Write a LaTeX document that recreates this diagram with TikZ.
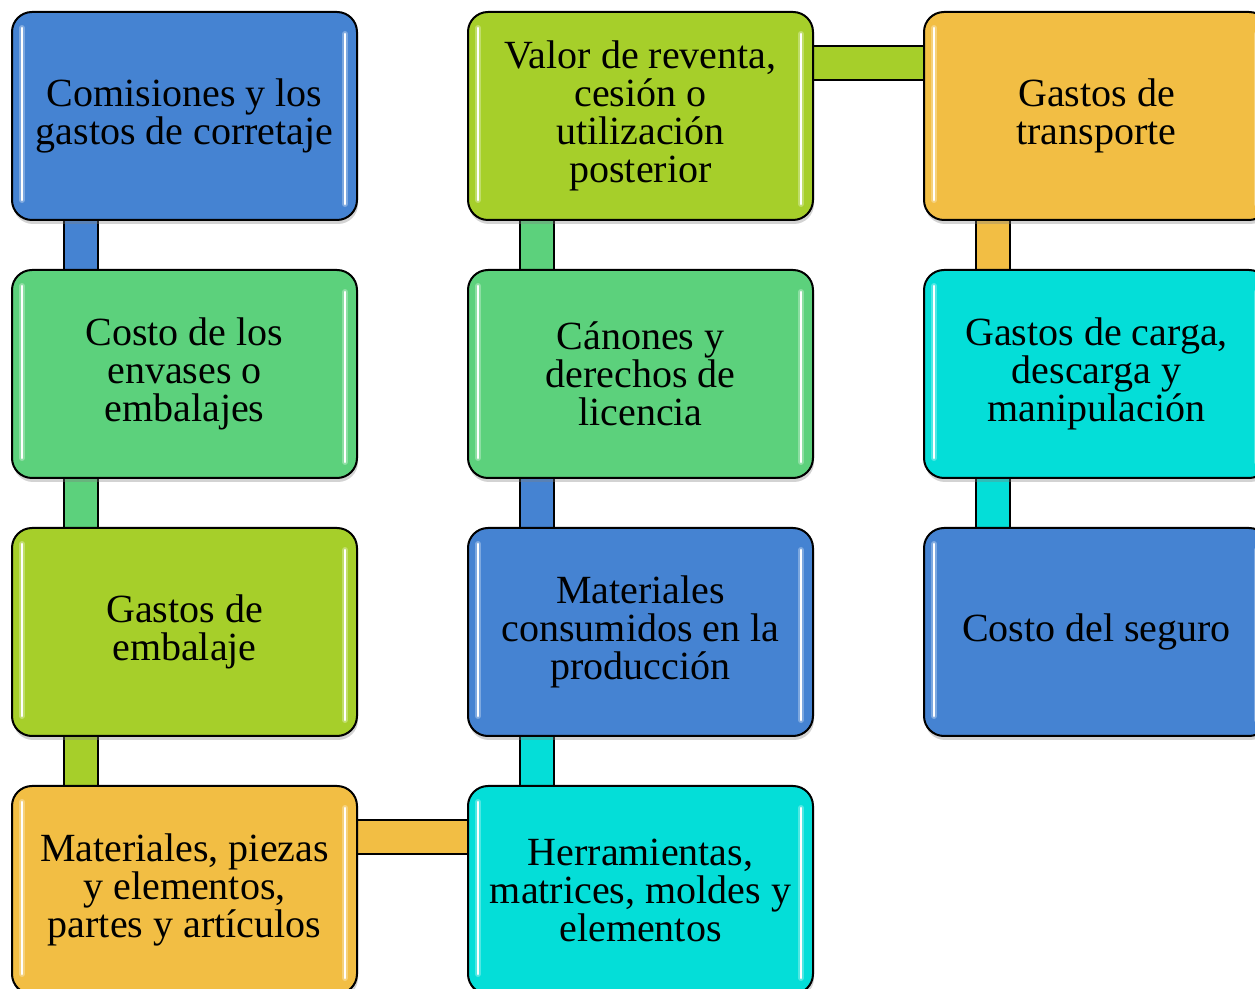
\documentclass[tikz,border=0pt]{standalone}
\usepackage{fontspec}
\setmainfont{Liberation Serif}
\usepackage{tikz}
\usepackage{xcolor}
\usetikzlibrary{positioning,shadows,backgrounds}

\definecolor{bxblue}{RGB}{69,131,210}
\definecolor{bxgreen}{RGB}{92,209,124}
\definecolor{bxlime}{RGB}{166,207,42}
\definecolor{bxorange}{RGB}{242,190,68}
\definecolor{bxcyan}{RGB}{4,222,216}

\tikzstyle{gloss} = [path picture={
    \draw[white, opacity=0.3, line width=3pt, line cap=round]
        ([xshift=5pt,yshift=-8pt]path picture bounding box.north west) -- ([xshift=5pt,yshift=10pt]path picture bounding box.south west)
        ([xshift=-6pt,yshift=-11pt]path picture bounding box.north east) -- ([xshift=-6pt,yshift=8pt]path picture bounding box.south east);
    \draw[white, line width=1.4pt, line cap=round]
        ([xshift=5pt,yshift=-8pt]path picture bounding box.north west) -- ([xshift=5pt,yshift=10pt]path picture bounding box.south west)
        ([xshift=-6pt,yshift=-11pt]path picture bounding box.north east) -- ([xshift=-6pt,yshift=8pt]path picture bounding box.south east);
}]
\tikzstyle{boxes} = [rectangle, rounded corners=10pt, minimum width=172.5pt, minimum height=104pt,
align=center, draw=black, line width=1pt, font=\fontsize{20pt}{19pt}\selectfont,
drop shadow={shadow xshift=0.5pt, shadow yshift=-2pt, opacity=0.35}, gloss]
\tikzstyle{link} = [line width=0.8pt, double distance=16pt]

\begin{document}
\begin{tikzpicture}
    \useasboundingbox (0,0) rectangle (627.5pt,-494.5pt);

    \node[boxes, fill=bxblue, anchor=north west] (comis) at (5.5pt,-5.5pt) {Comisiones y los\\ gastos de corretaje};
    \node[boxes, fill=bxgreen, below=24pt of comis] (envases) {Costo de los\\ envases o\\ embalajes};
    \node[boxes, fill=bxlime, below=24pt of envases] (embalaje) {Gastos de\\ embalaje};
    \node[boxes, fill=bxorange, below=24pt of embalaje] (piezas) {Materiales, piezas\\ y elementos,\\ partes y artículos};

    \node[boxes, fill=bxcyan, right=54.5pt of piezas] (herram) {Herramientas,\\ matrices, moldes y\\ elementos};
    \node[boxes, fill=bxblue, above=24pt of herram] (consum) {Materiales\\ consumidos en la\\ producción};
    \node[boxes, fill=bxgreen, above=24pt of consum] (canones) {Cánones y\\ derechos de\\ licencia};
    \node[boxes, fill=bxlime, above=24pt of canones] (reventa) {Valor de reventa,\\ cesión o\\ utilización\\ posterior};

    \node[boxes, fill=bxorange, right=54.5pt of reventa] (transp) {Gastos de\\ transporte};
    \node[boxes, fill=bxcyan, below=24pt of transp] (carga) {Gastos de carga,\\ descarga y\\ manipulación};
    \node[boxes, fill=bxblue, below=24pt of carga] (seguro) {Costo del seguro};

    \begin{scope}[on background layer]
        \draw[link, double=bxblue] ([xshift=35pt]comis.south west) -- ([xshift=35pt]envases.north west);
        \draw[link, double=bxgreen] ([xshift=35pt]envases.south west) -- ([xshift=35pt]embalaje.north west);
        \draw[link, double=bxlime] ([xshift=35pt]embalaje.south west) -- ([xshift=35pt]piezas.north west);
        \draw[link, double=bxorange] ([yshift=-26pt]piezas.north east) -- ([yshift=-26pt]herram.north west);
        \draw[link, double=bxcyan] ([xshift=35pt]herram.north west) -- ([xshift=35pt]consum.south west);
        \draw[link, double=bxblue] ([xshift=35pt]consum.north west) -- ([xshift=35pt]canones.south west);
        \draw[link, double=bxgreen] ([xshift=35pt]canones.north west) -- ([xshift=35pt]reventa.south west);
        \draw[link, double=bxlime] ([yshift=-26pt]reventa.north east) -- ([yshift=-26pt]transp.north west);
        \draw[link, double=bxorange] ([xshift=35pt]transp.south west) -- ([xshift=35pt]carga.north west);
        \draw[link, double=bxcyan] ([xshift=35pt]carga.south west) -- ([xshift=35pt]seguro.north west);
    \end{scope}
\end{tikzpicture}
\end{document}
